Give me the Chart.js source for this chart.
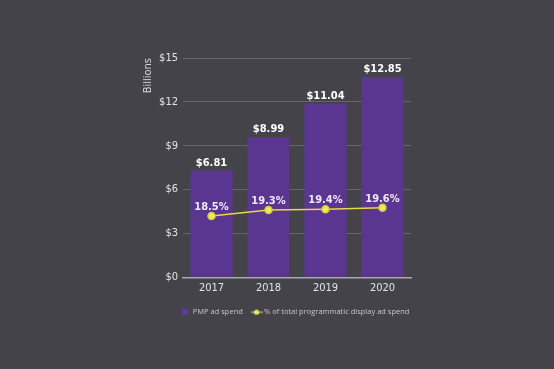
<!DOCTYPE html>
<html>
<head>
<meta charset="utf-8">
<script src="https://cdn.jsdelivr.net/npm/chart.js@4"></script>
<style>
  html, body { margin: 0; padding: 0; background: #45434a; }
  #wrap { width: 554px; height: 369px; }
</style>
</head>
<body>
<div id="wrap"><canvas id="myChart" width="554" height="369"></canvas></div>
<script>
const years = ['2017', '2018', '2019', '2020'];
const spend = [7.3, 9.6, 11.85, 13.7];
const spendLabels = ['$6.81', '$8.99', '$11.04', '$12.85'];
const share = [18.5, 19.3, 19.4, 19.6];
const shareLabels = ['18.5%', '19.3%', '19.4%', '19.6%'];
const yTicks = [0, 3, 6, 9, 12, 15];

const purple = '#5a3690';
const yellow = '#e8d848';
const labelFont = '"DejaVu Sans Condensed", sans-serif';

// little "line + dot" marker for the legend
const lineMark = document.createElement('canvas');
lineMark.width = 12; lineMark.height = 6;
(function () {
    const c = lineMark.getContext('2d');
    c.strokeStyle = yellow; c.lineWidth = 1;
    c.beginPath(); c.moveTo(0, 3); c.lineTo(12, 3); c.stroke();
    c.fillStyle = '#e4f060';
    c.beginPath(); c.arc(6, 3, 2.6, 0, Math.PI * 2); c.fill();
})();
const boxMark = document.createElement('canvas');
boxMark.width = 6; boxMark.height = 6;
(function () {
    const c = boxMark.getContext('2d');
    c.fillStyle = '#5c3ca0'; c.fillRect(0, 0, 6, 6);
})();

const valueLabels = {
    id: 'valueLabels',
    afterLayout(chart) {
        // legend in the original sits a bit right of centre
        chart.legend.left += 19;
        chart.legend.right += 19;
    },
    afterDatasetsDraw(chart) {
        const ctx = chart.ctx;
        ctx.save();
        ctx.textAlign = 'center';
        ctx.textBaseline = 'alphabetic';
        chart.getDatasetMeta(1).data.forEach((bar, i) => {
            ctx.fillStyle = '#ffffff';
            ctx.font = 'bold 11px ' + labelFont;
            ctx.fillText(spendLabels[i], bar.x, bar.y - 5);
        });
        chart.getDatasetMeta(0).data.forEach((pt, i) => {
            ctx.fillStyle = '#efe6fa';
            ctx.font = 'bold 11px ' + labelFont;
            ctx.fillText(shareLabels[i], pt.x, pt.y - 6);
        });
        ctx.restore();
    }
};

const ctx = document.getElementById('myChart').getContext('2d');
const myChart = new Chart(ctx, {
    type: 'bar',
    data: {
        labels: years,
        datasets: [{
            type: 'line',
            label: '% of total programmatic display ad spend',
            data: share,
            yAxisID: 'y2',
            borderColor: yellow,
            borderWidth: 1.5,
            backgroundColor: '#ecec5a',
            pointBackgroundColor: '#ecec5a',
            pointBorderColor: '#d8c840',
            pointRadius: 3.5,
            order: 0
        }, {
            label: 'PMP ad spend',
            data: spend,
            backgroundColor: purple,
            borderWidth: 0,
            barPercentage: 0.74,
            categoryPercentage: 1,
            order: 1
        }]
    },
    options: {
        responsive: false,
        animation: false,
        layout: { padding: { left: 142, right: 143, top: 58, bottom: 43 } },
        plugins: {
            legend: {
                position: 'bottom',
                labels: {
                    color: '#c8c6cc',
                    font: { family: 'Open Sans', size: 7.5 },
                    usePointStyle: true,
                    padding: 10,
                    generateLabels(chart) {
                        return [{
                            text: 'PMP ad spend', pointStyle: boxMark,
                            fontColor: '#c8c6cc', datasetIndex: 1, lineWidth: 0
                        }, {
                            text: '% of total programmatic display ad spend', pointStyle: lineMark,
                            fontColor: '#c8c6cc', datasetIndex: 0, lineWidth: 0
                        }];
                    }
                }
            },
            tooltip: { enabled: false }
        },
        scales: {
            x: {
                grid: { display: false, drawTicks: false },
                border: { color: '#a8a6ae', width: 1.5 },
                ticks: { color: '#e4e2e8', font: { family: 'DejaVu Sans Condensed', size: 11 }, padding: 4 }
            },
            y: {
                min: 0, max: 15,
                afterBuildTicks(scale) { scale.ticks = yTicks.map(v => ({ value: v })); },
                afterFit(scale) { scale.width = 41; },
                grid: { color: '#66646c', lineWidth: 1, drawTicks: false },
                border: { display: false },
                ticks: {
                    color: '#e4e2e8', font: { family: 'DejaVu Sans Condensed', size: 11 }, padding: 5,
                    callback: v => '$' + v
                },
                title: {
                    display: true, text: 'Billions', align: 'end',
                    color: '#d8d6dc', font: { family: 'DejaVu Sans Condensed', size: 11 },
                    padding: { top: 0, bottom: 0 }
                }
            },
            y2: { display: false, min: 10.4, max: 39.4 }
        }
    },
    plugins: [valueLabels]
});
</script>
</body>
</html>
